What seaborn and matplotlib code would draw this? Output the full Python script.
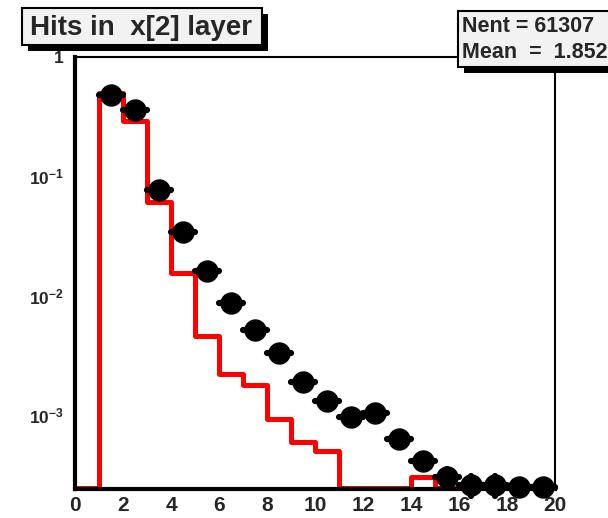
import numpy as np
import pandas as pd
import matplotlib
matplotlib.use("Agg")
import matplotlib.pyplot as plt
import seaborn as sns
from matplotlib.patches import Rectangle
from matplotlib.ticker import FixedLocator, MultipleLocator, LogLocator, NullFormatter

# dati (istogrammi normalizzati)
bin_edges = list(range(0, 21))
data_centers = [1.5, 2.5, 3.5, 4.5, 5.5, 6.5, 7.5, 8.5, 9.5, 10.5,
                11.5, 12.5, 13.5, 14.5, 15.5, 16.5, 17.5, 18.5, 19.5]
data_hits = [0.48, 0.36, 0.077, 0.034, 0.016, 0.0087, 0.0052, 0.0033, 0.0019, 0.0013,
             0.00096, 0.00104, 0.00063, 0.00041, 0.0003, 0.00026, 0.00026, 0.00025, 0.00025]
data_err = [0.002, 0.001, 0.0005, 0.0003, 0.0002, 0.00015, 0.0001, 0.0001, 0.00008, 0.00008,
            0.00008, 0.00008, 0.00007, 0.00006, 0.00005, 0.00005, 0.00005, 0.00003, 0.00003]
mc_hits = [0, 0.50, 0.29, 0.061, 0.0154, 0.0046, 0.0022, 0.0018, 0.00093, 0.0006,
           0.0005, 0, 0, 0, 0.0003, 0, 0, 0, 0, 0]
y_ticks = [1e-3, 1e-2, 1e-1, 1]
y_tick_labels = [r'$\mathbf{10^{-3}}$', r'$\mathbf{10^{-2}}$', r'$\mathbf{10^{-1}}$', '1']
x_ticks = list(range(0, 21, 2))
title_text = "Hits in  x[2] layer"
stats_lines = ["Nent = 61307", "Mean  =  1.852"]

y_min, y_max = 2.4e-4, 1.0

sns.set_style("white")
plt.rcParams['font.family'] = ['Liberation Sans', 'DejaVu Sans']
plt.rcParams['font.weight'] = 'bold'
plt.rcParams['mathtext.fontset'] = 'custom'
plt.rcParams['mathtext.rm'] = 'Liberation Sans:bold'
plt.rcParams['mathtext.bf'] = 'Liberation Sans:bold'

fig = plt.figure(figsize=(6.08, 5.18), dpi=100)
W, H = 608, 518
ax = fig.add_axes([75 / W, 29 / H, 480 / W, 432 / H])

# istogramma MC (rosso) a gradini, gli zeri vanno al minimo dell'asse
mc_draw = np.maximum(np.array(mc_hits, dtype=float), y_min * 1.02)
df_mc = pd.DataFrame({'x': bin_edges, 'y': np.append(mc_draw, mc_draw[-1])})
sns.lineplot(data=df_mc, x='x', y='y', ax=ax, drawstyle='steps-post',
             color='#ff0000', lw=3.6, clip_on=False, zorder=3)

# punti dati (neri) con barre di errore
df_data = pd.DataFrame({'x': data_centers, 'y': data_hits, 'err': data_err})
eb = ax.errorbar(df_data['x'], df_data['y'], xerr=0.5, yerr=df_data['err'], fmt='none',
                 ecolor='black', elinewidth=4.5, capsize=0, clip_on=False, zorder=4)
for coll in eb[2]:
    coll.set_capstyle('round')
sns.scatterplot(data=df_data, x='x', y='y', ax=ax, s=260, color='black',
                edgecolor='black', linewidth=0, clip_on=False, zorder=5)

ax.set_yscale('log')
ax.set_xlim(0, 20)
ax.set_ylim(y_min, y_max)
ax.set_xlabel('')
ax.set_ylabel('')

ax.xaxis.set_major_locator(FixedLocator(x_ticks))
ax.xaxis.set_minor_locator(MultipleLocator(0.5))
ax.set_xticklabels([str(t) for t in x_ticks])
ax.yaxis.set_major_locator(FixedLocator(y_ticks))
ax.set_yticklabels(y_tick_labels)
ax.yaxis.set_minor_locator(LogLocator(base=10, subs=np.arange(2, 10)))
ax.yaxis.set_minor_formatter(NullFormatter())

ax.tick_params(axis='both', which='major', direction='in', length=12, width=1.8,
               color='black')
ax.tick_params(axis='both', which='minor', direction='in', length=6, width=1.5,
               color='black')
ax.tick_params(axis='x', which='major', labelsize=15, pad=5)
ax.tick_params(axis='y', which='major', labelsize=12.5, pad=8)

for side in ['left', 'bottom']:
    ax.spines[side].set_linewidth(3)
for side in ['top', 'right']:
    ax.spines[side].set_linewidth(1.5)
for s in ax.spines.values():
    s.set_color('black')
    s.set_zorder(6)

# box con ombra stile ROOT
def shadow_box(x0, y0, x1, y1, off=6):
    fig.patches.append(Rectangle(((x0 + off) / W, 1 - (y1 + off) / H),
                                 (x1 - x0) / W, (y1 - y0) / H,
                                 transform=fig.transFigure, facecolor='black',
                                 edgecolor='none', zorder=8))
    fig.patches.append(Rectangle((x0 / W, 1 - y1 / H), (x1 - x0) / W, (y1 - y0) / H,
                                 transform=fig.transFigure, facecolor='#f2f2f2',
                                 edgecolor='black', lw=1.5, zorder=9))

shadow_box(22, 8, 262, 45)
fig.text(30 / W, 1 - 28 / H, title_text, fontsize=20, fontweight='bold',
         va='center', ha='left', zorder=10)

shadow_box(458, 11, 625, 67, off=6)
fig.text(462 / W, 1 - 27 / H, stats_lines[0], fontsize=15.5, fontweight='bold',
         va='center', ha='left', zorder=10)
fig.text(462 / W, 1 - 53 / H, stats_lines[1], fontsize=15.5, fontweight='bold',
         va='center', ha='left', zorder=10)

fig.savefig('out.png', dpi=100)
